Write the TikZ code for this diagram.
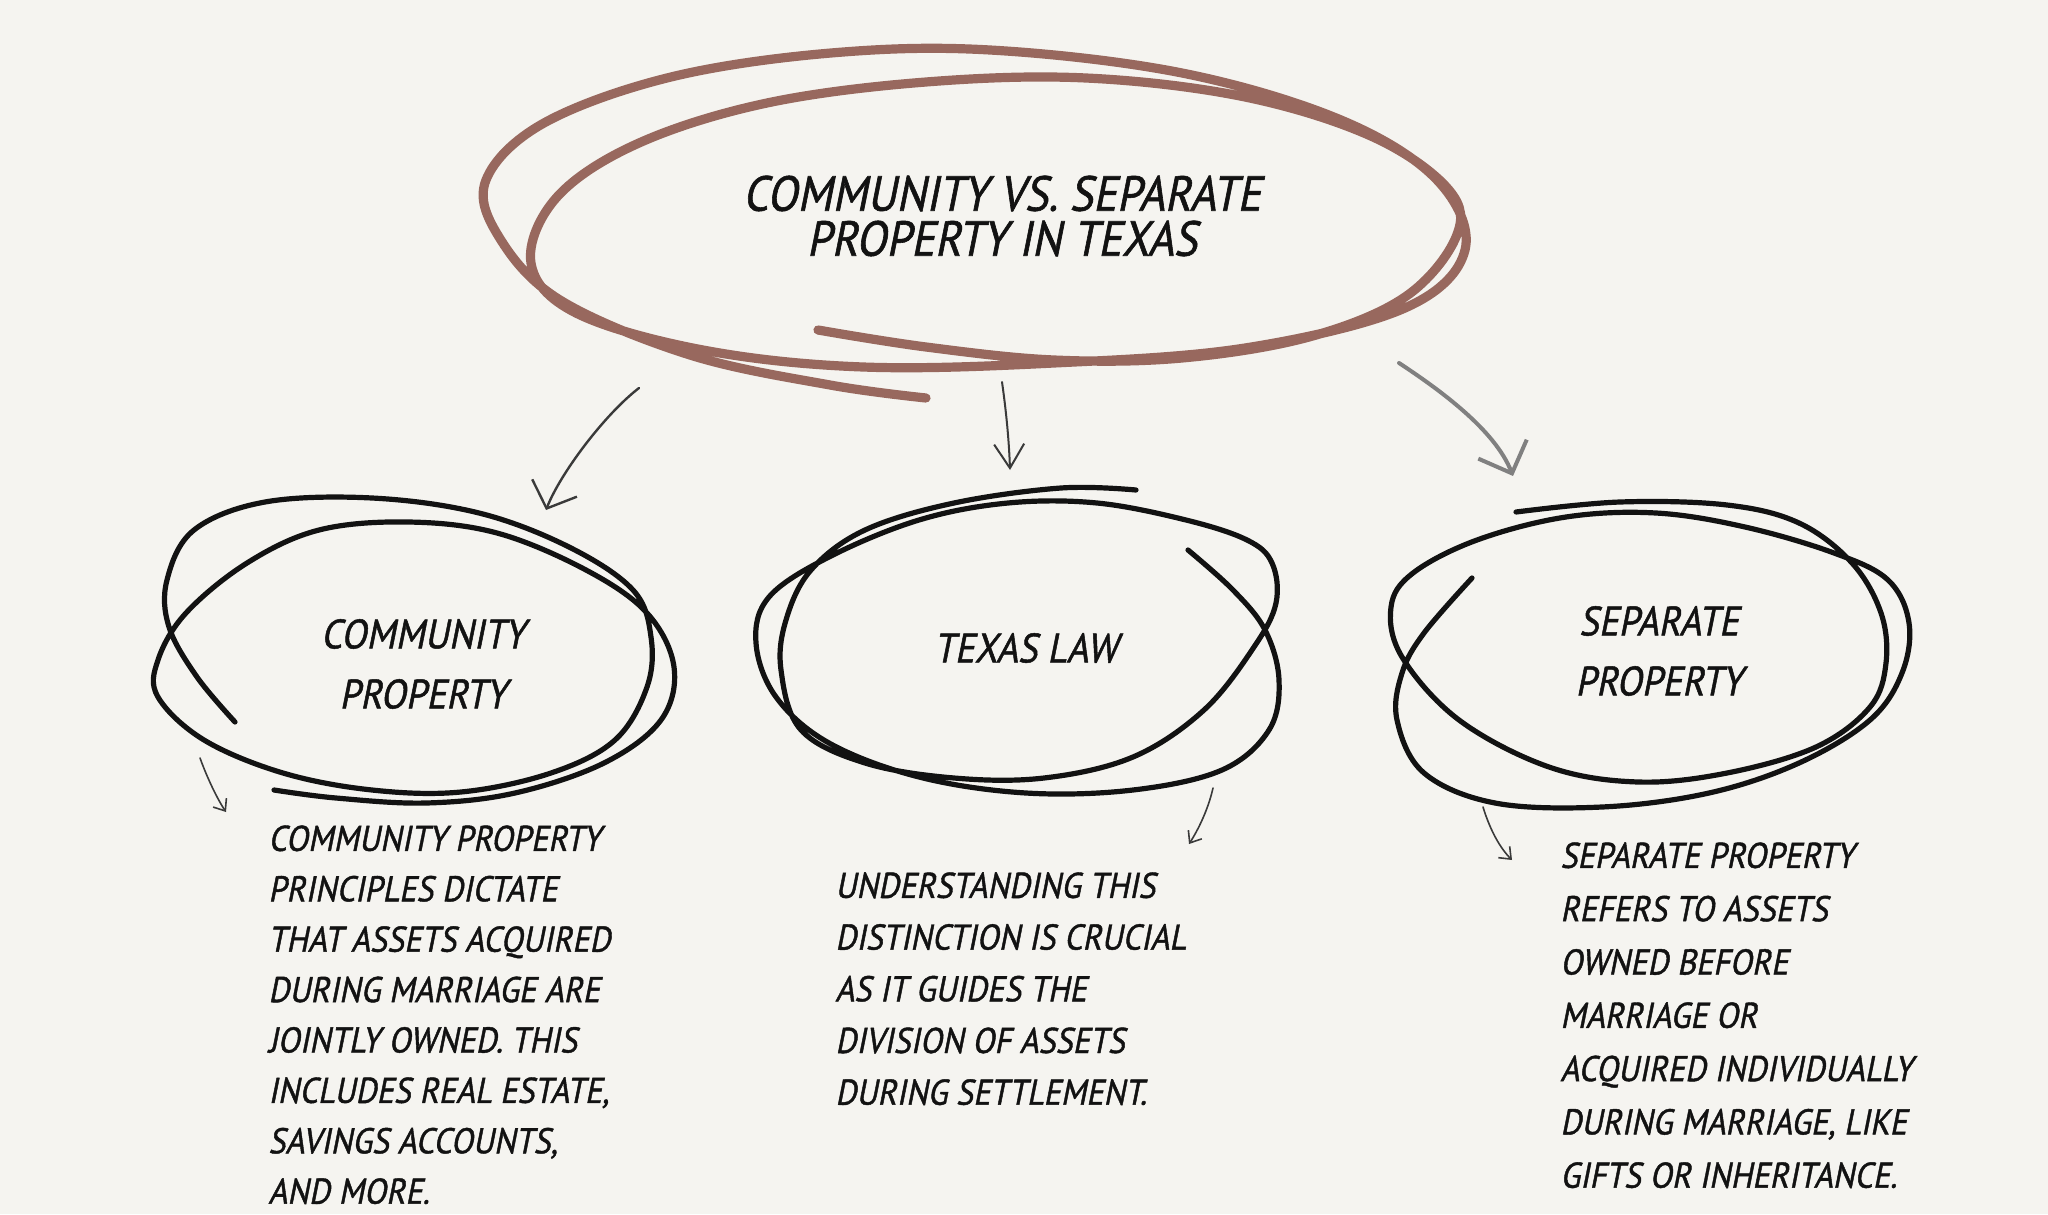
\documentclass[tikz,border=0pt]{standalone}
\usepackage{fontspec}
\newfontfamily\handfont{PT Sans}[FakeStretch=0.9,FakeSlant=0.2,FakeBold=1.2]
\usetikzlibrary{arrows.meta}
\definecolor{paper}{RGB}{245,244,240}
\definecolor{clay}{RGB}{152,104,94}
\definecolor{ink}{RGB}{18,18,18}
\definecolor{pencil}{RGB}{58,58,58}
\definecolor{ash}{RGB}{128,128,128}

\begin{document}
\begin{tikzpicture}[x=0.5pt, y=-0.5pt,
  every node/.style={inner sep=0pt, text=ink},
  title/.style={align=center, font=\handfont\fontsize{24.6}{22.5}\selectfont},
  topic/.style={align=center, font=\handfont\fontsize{20.5}{30}\selectfont},
  blurb/.style={align=left, anchor=north west, font=\handfont\fontsize{17.9}{#1}\selectfont},
  swirl/.style={clay, line width=4.6pt, line cap=round, line join=round},
  scribble/.style={ink, line width=2.6pt, line cap=round, line join=round},
  pointer/.style={pencil, line width=1.2pt, line cap=round},
  hint/.style={pencil, line width=0.8pt, line cap=round, -{Straight Barb[length=5pt,width=8pt]}}]
\fill[paper] (0,0) rectangle (2048,1214);
\useasboundingbox (0,0) rectangle (2048,1214);

\node[title] (head) at (1002,216) {COMMUNITY VS. SEPARATE\\PROPERTY IN TEXAS};
\node[topic] (community) at (423,664) {COMMUNITY\\PROPERTY};
\node[topic] (law) at (1026,648) {TEXAS LAW};
\node[topic] (separate) at (1659,651) {SEPARATE\\PROPERTY};

\node[blurb=25.2pt] (community-text) at (268,825) {COMMUNITY PROPERTY\\PRINCIPLES DICTATE\\THAT ASSETS ACQUIRED\\DURING MARRIAGE ARE\\JOINTLY OWNED. THIS\\INCLUDES REAL ESTATE,\\SAVINGS ACCOUNTS,\\AND MORE.};
\node[blurb=25.85pt] (law-text) at (835,872) {UNDERSTANDING THIS\\DISTINCTION IS CRUCIAL\\AS IT GUIDES THE\\DIVISION OF ASSETS\\DURING SETTLEMENT.};
\node[blurb=26.65pt] (separate-text) at (1560,842) {SEPARATE PROPERTY\\REFERS TO ASSETS\\OWNED BEFORE\\MARRIAGE OR\\ACQUIRED INDIVIDUALLY\\DURING MARRIAGE, LIKE\\GIFTS OR INHERITANCE.};

% hand-drawn rings
\draw[swirl] plot[smooth, tension=0.6] coordinates {(818,330) (926,347) (1054,360) (1182,358) (1309,337) (1405,297) (1456,237) (1449,190) (1373,137) (1245,97) (1086,78) (926,82) (767,103) (639,143) (557,197) (531,263) (576,313) (703,350) (863,367) (1054,363) (1245,348) (1405,308) (1465,250) (1437,180) (1341,120) (1182,73) (990,50) (831,53) (671,77) (544,123) (486,180) (499,237) (560,300) (690,355) (830,385) (926,398)};
\draw[scribble] plot[smooth, tension=0.6] coordinates {(235,722) (197,677) (169,627) (167,580) (194,530) (265,502) (372,498) (479,513) (569,547) (633,590) (651,637) (647,687) (615,740) (551,773) (461,792) (372,790) (283,773) (204,740) (158,697) (158,660) (186,613) (247,563) (319,530) (408,522) (497,533) (586,570) (647,613) (674,667) (661,720) (604,763) (515,793) (426,803) (336,798) (274,790)};
\draw[scribble] plot[smooth, tension=0.6] coordinates {(1136,490) (1061,488) (954,503) (865,530) (811,570) (786,620) (781,670) (801,730) (865,763) (954,778) (1044,778) (1133,757) (1204,710) (1254,647) (1276,603) (1272,563) (1247,540) (1186,520) (1097,503) (1008,503) (919,520) (829,557) (769,597) (756,643) (776,697) (829,743) (919,777) (1026,793) (1133,790) (1222,770) (1269,730) (1279,680) (1265,630) (1233,590) (1188,550)};
\draw[scribble] plot[smooth, tension=0.6] coordinates {(1516,512) (1620,502) (1727,505) (1799,523) (1852,563) (1881,613) (1886,663) (1870,707) (1816,747) (1727,773) (1638,782) (1549,767) (1459,720) (1402,657) (1391,607) (1413,573) (1477,540) (1566,517) (1656,513) (1745,527) (1834,553) (1888,580) (1909,623) (1902,673) (1870,720) (1799,763) (1709,793) (1602,807) (1495,803) (1424,773) (1397,720) (1402,673) (1424,633) (1472,578)};

% arrows
\coordinate (head-left) at (639,388);
\coordinate (head-mid) at (1002,382);
\coordinate (head-right) at (1399,363);
\coordinate (community-top) at (546,510);
\coordinate (law-top) at (1010,470);
\coordinate (separate-top) at (1513,476);
\draw[pointer, -{Straight Barb[length=11pt,width=24pt]}] (head-left) .. controls (604,415) and (560,474) .. (community-top);
\draw[pointer, line width=1pt, -{Straight Barb[length=12pt,width=15pt]}] (head-mid) .. controls (1006,410) and (1009,440) .. (law-top);
\draw[pointer, ash, line width=2pt, -{Straight Barb[length=13pt,width=26pt]}] (head-right) .. controls (1440,390) and (1495,430) .. (separate-top);

\coordinate (community-out) at (200,758);
\coordinate (law-out) at (1213,788);
\coordinate (separate-out) at (1483,807);
\coordinate (community-note) at (226,812);
\coordinate (law-note) at (1189,844);
\coordinate (separate-note) at (1512,860);
\draw[hint] (community-out) .. controls (208,780) and (218,800) .. (community-note);
\draw[hint] (law-out) .. controls (1208,810) and (1198,830) .. (law-note);
\draw[hint] (separate-out) .. controls (1490,830) and (1500,848) .. (separate-note);
\end{tikzpicture}
\end{document}
